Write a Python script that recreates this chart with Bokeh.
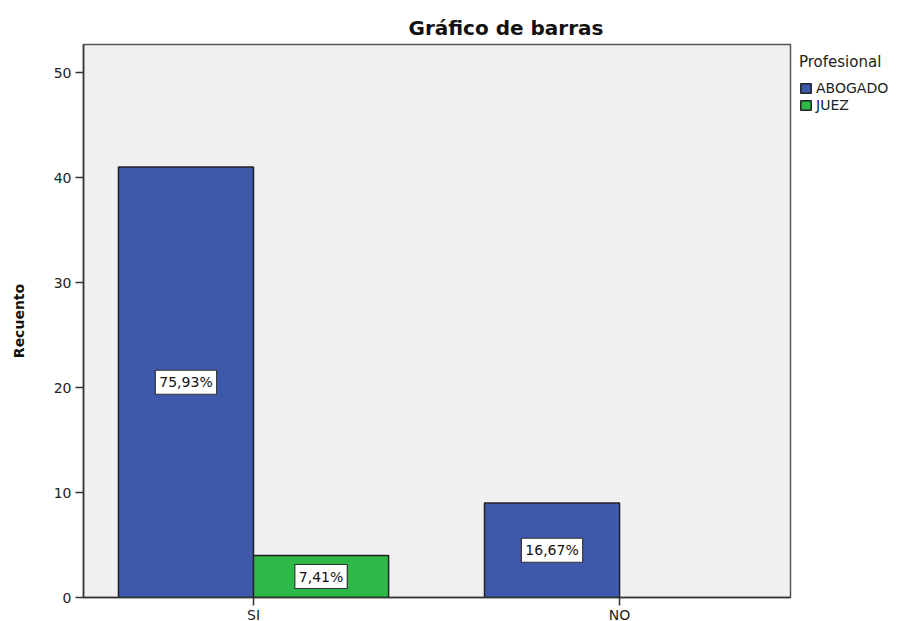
from bokeh.plotting import figure
from bokeh.models import (FixedTicker, Range1d, Legend, LegendItem, Label, ColumnDataSource)
from bokeh.embed import file_html
from bokeh.resources import INLINE

# ---- data ----
categories = ["SI", "NO"]
abogado = [41, 9]
juez = [4, 0]
series_names = ["ABOGADO", "JUEZ"]
y_ticks = [0, 10, 20, 30, 40, 50]

colors = ["#3E58AC", "#2EB848"]
FONT = "DejaVu Sans"

total = sum(abogado) + sum(juez)
bar_w = 0.369
offsets = [-bar_w / 2, bar_w / 2]

p = figure(frame_width=707, frame_height=553, output_backend="svg", toolbar_location=None,
           x_range=Range1d(0.5355, 2.467), y_range=Range1d(0, 52.67),
           min_border_left=83, min_border_right=0, min_border_top=44,
           min_border_bottom=22)

p.background_fill_color = "#F0F0F0"
p.border_fill_color = "white"
p.outline_line_color = "#555555"
p.outline_line_width = 1.5
p.xgrid.visible = False
p.ygrid.visible = False

renderers = []
for s, (vals, col, off) in enumerate(zip([abogado, juez], colors, offsets)):
    xs = [i + 1 + off for i, v in enumerate(vals) if v > 0]
    ys = [v for v in vals if v > 0]
    src = ColumnDataSource(dict(x=xs, top=ys))
    r = p.vbar(x="x", top="top", width=bar_w, bottom=0, source=src,
               fill_color=col, line_color="#222222", line_width=1.5)
    renderers.append(r)
    for x, v in zip(xs, ys):
        pct = f"{v / total * 100:.2f}".replace(".", ",") + "%"
        lab = Label(x=x, y=v / 2, text=pct, text_align="center",
                    text_baseline="middle", text_font=FONT,
                    text_font_size="14px", text_color="#111111",
                    background_fill_color="white", border_line_color="#333333",
                    border_line_width=1.2, padding=4)
        p.add_layout(lab)

# axes
p.xaxis.ticker = FixedTicker(ticks=[i + 1 for i in range(len(categories))])
p.xaxis.major_label_overrides = {i + 1: c for i, c in enumerate(categories)}
p.yaxis.ticker = FixedTicker(ticks=y_ticks)
for ax in (p.xaxis, p.yaxis):
    ax.major_tick_out = 8
    ax.major_tick_in = 0
    ax.minor_tick_out = 0
    ax.minor_tick_in = 0
    ax.axis_line_color = "#333333"
    ax.axis_line_width = 1.5
    ax.major_tick_line_color = "#333333"
    ax.major_tick_line_width = 1.5
    ax.major_label_text_font = FONT
    ax.major_label_text_font_size = "14px"
    ax.major_label_text_color = "#222222"
p.xaxis.major_label_standoff = 1
p.yaxis.major_label_standoff = 4
p.yaxis.axis_label = "Recuento"
p.yaxis.axis_label_text_font = FONT
p.yaxis.axis_label_text_font_size = "14px"
p.yaxis.axis_label_text_font_style = "bold"
p.yaxis.axis_label_text_color = "#111111"
p.yaxis.axis_label_standoff = 24

# title
p.title.text = "Gráfico de barras"
p.title.text_font = FONT
p.title.text_font_size = "20px"
p.title.text_font_style = "bold"
p.title.text_color = "#111111"
p.title.align = "left"
p.title.offset = 325

# legend
legend = Legend(items=[LegendItem(label=n, renderers=[r]) for n, r in zip(series_names, renderers)],
                title="Profesional", location="top_left")
legend.title_text_font = FONT
legend.title_text_font_size = "15px"
legend.title_text_font_style = "normal"
legend.title_text_color = "#222222"
legend.title_standoff = 9
legend.label_text_font = FONT
legend.label_text_font_size = "14px"
legend.label_text_color = "#222222"
legend.glyph_width = 13
legend.glyph_height = 12
legend.label_height = 15
legend.label_standoff = 4
legend.spacing = 1
legend.padding = 0
legend.margin = 9
legend.border_line_color = None
legend.background_fill_alpha = 0
p.add_layout(legend, "right")

open("out.html", "w").write(file_html(p, INLINE))
